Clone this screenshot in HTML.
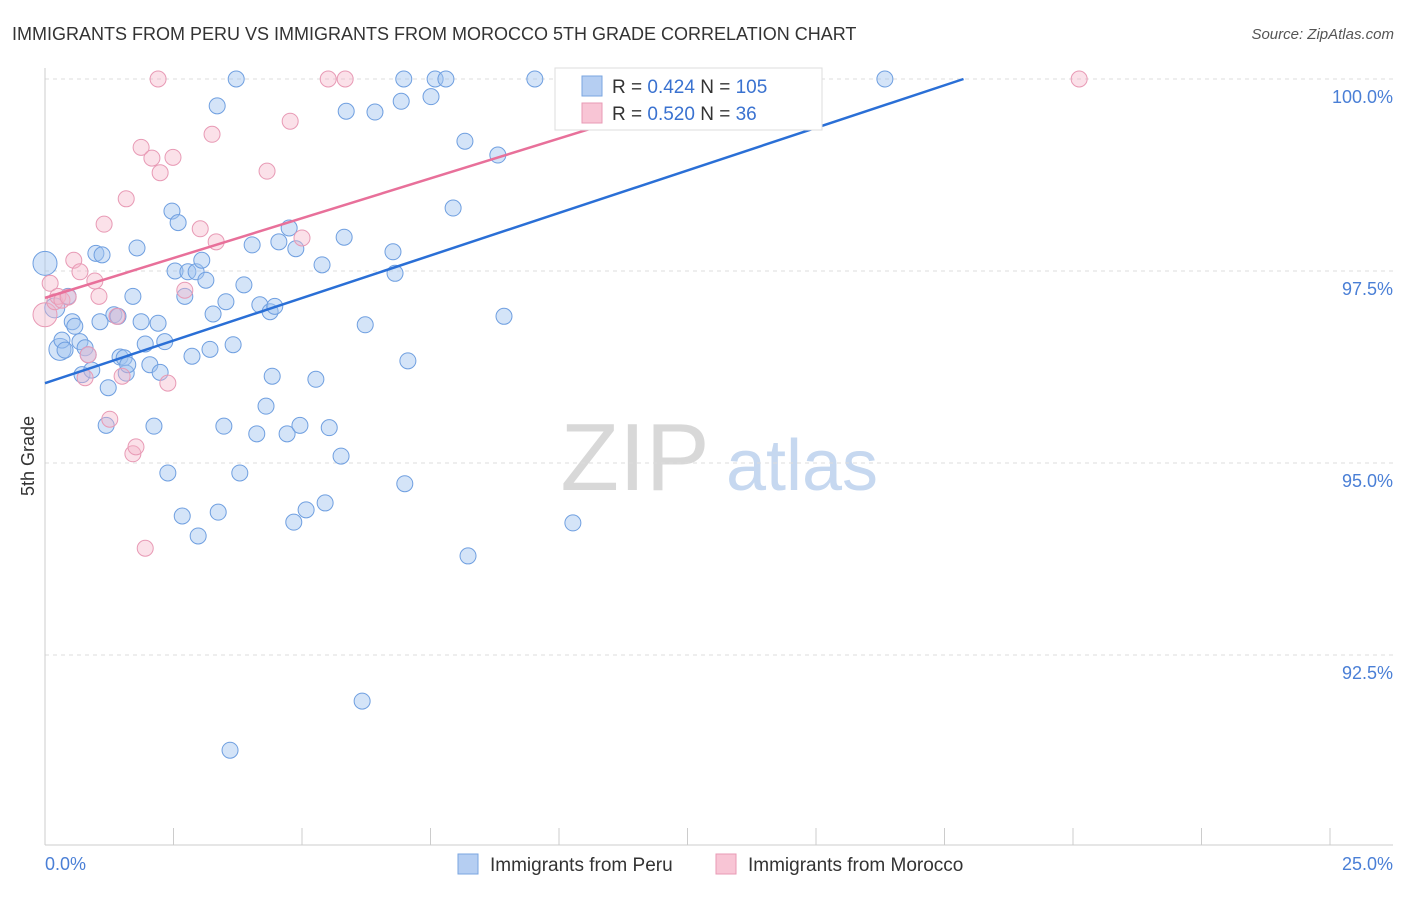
<!DOCTYPE html>
<html><head><meta charset="utf-8"><style>
body{margin:0;background:#fff;font-family:"Liberation Sans",sans-serif;}
svg text{font-family:"Liberation Sans",sans-serif;}
</style></head><body>
<svg id="chart" width="1406" height="892" viewBox="0 0 1406 892" xmlns="http://www.w3.org/2000/svg">
<text x="12" y="40" font-size="18" fill="#333">IMMIGRANTS FROM PERU VS IMMIGRANTS FROM MOROCCO 5TH GRADE CORRELATION CHART</text>
<text x="1394" y="39" font-size="15" fill="#555" font-style="italic" text-anchor="end">Source: ZipAtlas.com</text>
<g>
<text x="635" y="490" font-size="96" fill="#d8d8d8" text-anchor="middle" font-family="Liberation Serif, serif">ZIP</text>
<text x="802" y="490" font-size="72" fill="#c6d8f0" text-anchor="middle">atlas</text>
</g>
<g id="grid"></g>
<g id="axes"></g>
<g id="marks"></g>
<g id="trends"></g>
<g>
<rect x="555" y="68" width="267" height="62" fill="#fff" stroke="#ddd"/>
<rect x="582" y="76" width="20" height="20" fill="#b5cef2" stroke="#7aa6e0"/>
<rect x="582" y="103" width="20" height="20" fill="#f8c5d5" stroke="#e89ab5"/>
<text x="612" y="93" font-size="19" fill="#333">R = <tspan fill="#3a72d0">0.424</tspan>   N = <tspan fill="#3a72d0">105</tspan></text>
<text x="612" y="120" font-size="19" fill="#333">R = <tspan fill="#3a72d0">0.520</tspan>   N =  <tspan fill="#3a72d0"> 36</tspan></text>
</g>
<g>
<rect x="458" y="854" width="20" height="20" fill="#b5cef2" stroke="#7aa6e0"/>
<text x="490" y="871" font-size="19" fill="#333">Immigrants from Peru</text>
<rect x="716" y="854" width="20" height="20" fill="#f8c5d5" stroke="#e89ab5"/>
<text x="748" y="871" font-size="19" fill="#333">Immigrants from Morocco</text>
</g>
<text transform="translate(34,456) rotate(-90)" font-size="18" fill="#333" text-anchor="middle">5th Grade</text>
</svg>
<script>
const yTicks=[100,97.5,95,92.5];
const yTickLabels=["100.0%","97.5%","95.0%","92.5%"];
const xTickLabels=["0.0%","25.0%"];
const peruX=[0,0.19,0.29,0.33,0.39,0.45,0.53,0.58,0.68,0.78,0.72,0.84,0.91,0.99,1.11,1.07,1.23,1.19,1.34,1.42,1.46,1.54,1.58,1.61,1.71,1.79,1.87,1.95,2.04,2.12,2.20,2.24,2.33,2.39,2.47,2.53,2.59,2.67,2.72,2.78,2.86,2.94,2.98,3.05,3.13,3.21,3.27,3.35,3.37,3.48,3.52,3.60,3.66,3.72,3.79,3.87,4.03,4.12,4.18,4.30,4.38,4.42,4.47,4.55,4.71,4.75,4.84,4.88,4.96,5.08,5.27,5.39,5.45,5.53,5.76,5.82,5.86,6.17,6.23,6.42,6.77,6.81,6.93,6.98,7.00,7.06,7.51,7.59,7.80,7.94,8.17,8.23,8.81,8.93,9.53,10.27,12.35,13.23,14.63,16.34];
const peruY=[97.60,97.02,96.48,96.60,96.47,97.17,96.84,96.78,96.58,96.50,96.15,96.41,96.21,97.73,97.71,96.84,95.98,95.49,96.93,96.91,96.38,96.37,96.17,96.28,97.17,97.80,96.84,96.55,96.28,95.48,96.82,96.18,96.58,94.87,98.28,97.50,98.13,94.31,97.17,97.49,96.39,97.49,94.05,97.64,97.38,96.48,96.94,99.65,94.36,95.48,97.10,91.26,96.54,100,94.87,97.32,97.84,95.38,97.06,95.74,96.97,96.13,97.04,97.88,95.38,98.06,94.23,97.79,95.49,94.39,96.09,97.58,94.48,95.46,95.09,97.94,99.58,91.90,96.80,99.57,97.75,97.47,99.71,100,94.73,96.33,99.77,100,100,98.32,99.19,93.79,99.01,96.91,100,94.22,100,100,100,100];
const peruSize=[12,10,11,8,8,8,8,8,8,8,8,8,8,8,8,8,8,8,8,8,8,8,8,8,8,8,8,8,8,8,8,8,8,8,8,8,8,8,8,8,8,8,8,8,8,8,8,8,8,8,8,8,8,8,8,8,8,8,8,8,8,8,8,8,8,8,8,8,8,8,8,8,8,8,8,8,8,8,8,8,8,8,8,8,8,8,8,8,8,8,8,8,8,8,8,8,8,8,8,8];
const moroccoX=[0,0.10,0.19,0.25,0.33,0.45,0.56,0.68,0.78,0.84,0.97,1.05,1.15,1.26,1.40,1.50,1.58,1.71,1.77,1.87,1.95,2.08,2.20,2.24,2.49,2.72,3.02,3.25,3.33,4.32,4.77,5.00,5.51,5.84,14.59,20.12,2.39];
const moroccoY=[96.93,97.34,97.10,97.17,97.12,97.16,97.64,97.49,96.11,96.41,97.37,97.17,98.11,95.57,96.91,96.13,98.44,95.12,95.21,99.11,93.89,98.97,100,98.78,98.98,97.25,98.05,99.28,97.88,98.80,99.45,97.93,100,100,100,100,96.04];
const peruTrend=[96.04,0.2216];
const moroccoTrend=[97.15,0.2075];
const NS="http://www.w3.org/2000/svg";
const X0=45,X1=1330,Y0=79,Y1=655;
const xs=v=>X0+(X1-X0)*v/25;
const ys=v=>Y0+(100-v)*(Y1-Y0)/7.5;
function mk(tag,attrs,parent){const e=document.createElementNS(NS,tag);for(const k in attrs)e.setAttribute(k,attrs[k]);parent.appendChild(e);return e;}
const grid=document.getElementById('grid'),axes=document.getElementById('axes'),marks=document.getElementById('marks'),trends=document.getElementById('trends');
yTicks.forEach((t,i)=>{
 const l=mk('line',{x1:45,x2:1393,y1:ys(t),y2:ys(t),stroke:'#ddd','stroke-dasharray':'4,4'},grid);
 
 
 const tx=mk('text',{x:1393,y:ys(t)+24,'font-size':18,fill:'#4a7fd6','text-anchor':'end'},axes);
 tx.textContent=yTickLabels[i];
 
 
});
const ax=mk('line',{x1:45,x2:1393,y1:845,y2:845,stroke:'#ccc'},axes);


const ay=mk('line',{x1:45,x2:45,y1:68,y2:845,stroke:'#ccc'},axes);


for(let i=1;i<=10;i++){
 const tk=mk('line',{x1:xs(i*2.5),x2:xs(i*2.5),y1:828,y2:845,stroke:'#ccc'},axes);
 
 
}
const xl0=mk('text',{x:45,y:870,'font-size':18,fill:'#4a7fd6'},axes);xl0.textContent=xTickLabels[0];


const xl1=mk('text',{x:1393,y:870,'font-size':18,fill:'#4a7fd6','text-anchor':'end'},axes);xl1.textContent=xTickLabels[1];


peruX.forEach((v,i)=>{
 const c=mk('circle',{cx:xs(v),cy:ys(peruY[i]),r:peruSize[i]||8,fill:'rgba(160,195,240,0.45)',stroke:'#6f9fe0','stroke-width':1},marks);
 
 
});
moroccoX.forEach((v,i)=>{
 const c=mk('circle',{cx:xs(v),cy:ys(moroccoY[i]),r:i===0?12:8,fill:'rgba(245,180,200,0.4)',stroke:'#e89ab5','stroke-width':1},marks);
 
 
});
const pEnd=(100-peruTrend[0])/peruTrend[1];
const tl=mk('line',{x1:xs(0),y1:ys(peruTrend[0]),x2:xs(pEnd),y2:ys(100),stroke:'#2a6fd6','stroke-width':2.5},trends);


const mEnd=12.5;
const tm=mk('line',{x1:xs(0),y1:ys(moroccoTrend[0]),x2:xs(mEnd),y2:ys(moroccoTrend[0]+moroccoTrend[1]*mEnd),stroke:'#e8709a','stroke-width':2.5},trends);


</script>
</body></html>
